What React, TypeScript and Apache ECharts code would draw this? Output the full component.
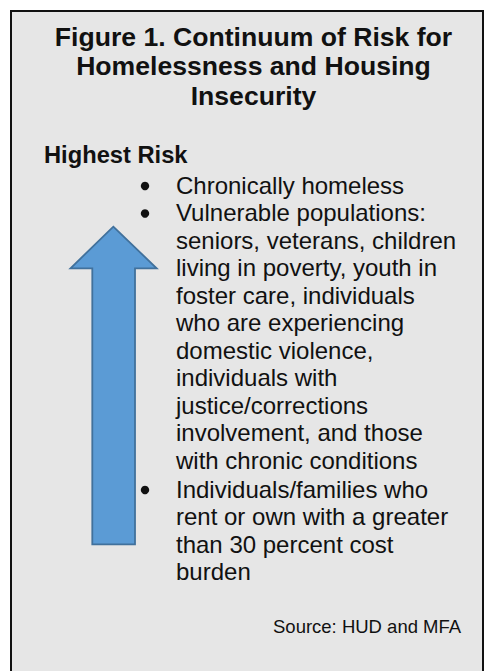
import React, { useEffect, useRef } from "react";
import * as echarts from "echarts";

const titleLines: string[] = [
  "Figure 1. Continuum of Risk for",
  "Homelessness and Housing",
  "Insecurity",
];
const topLabel = "Highest Risk";
const bulletItems: string[][] = [
  ["Chronically homeless"],
  [
    "Vulnerable populations:",
    "seniors, veterans, children",
    "living in poverty, youth in",
    "foster care, individuals",
    "who are experiencing",
    "domestic violence,",
    "individuals with",
    "justice/corrections",
    "involvement, and those",
    "with chronic conditions",
  ],
  [
    "Individuals/families who",
    "rent or own with a greater",
    "than 30 percent cost",
    "burden",
  ],
];
const sourceText = "Source: HUD and MFA";

const FONT = '"Liberation Sans", Arial, Helvetica, sans-serif';

export default function App() {
  const ref = useRef<HTMLDivElement>(null);
  useEffect(() => {
    if (!ref.current) return;
    const chart = echarts.init(ref.current, null, { renderer: "svg" });
    const elements: any[] = [];
    elements.push({
      type: "rect",
      shape: { x: 11, y: 11, width: 472, height: 680 },
      style: { fill: "#e6e6e6", stroke: "#111", lineWidth: 2 },
    });
    // title
    const titleFs = 26.6;
    const titleBase = [46.7, 76, 106];
    titleLines.forEach((t, i) => {
      elements.push({
        type: "text",
        x: 253.5,
        y: titleBase[i] - 0.358 * titleFs,
        style: {
          text: t,
          fontSize: titleFs,
          fontWeight: "bold",
          fontFamily: FONT,
          fill: "#111",
          textAlign: "center",
          textVerticalAlign: "middle",
        },
      });
    });
    elements.push({
      type: "text",
      x: 44,
      y: 163.3 - 0.358 * 23.7,
      style: {
        text: topLabel,
        fontSize: 23.7,
        fontWeight: "bold",
        fontFamily: FONT,
        fill: "#111",
        textAlign: "left",
        textVerticalAlign: "middle",
      },
    });
    // arrow
    elements.push({
      type: "polygon",
      shape: {
        points: [
          [113.3, 226.7],
          [156.7, 268.3],
          [135, 268.3],
          [135, 544.3],
          [92.3, 544.3],
          [92.3, 268.3],
          [70.5, 268.3],
        ],
      },
      style: { fill: "#5b9bd5", stroke: "#41719c", lineWidth: 1.8 },
    });
    // bullets
    const bodyFs = 24;
    const lh = 27.5;
    let base = 194;
    bulletItems.forEach((lines, k) => {
      if (k === 2) base += 1.5;
      elements.push({
        type: "circle",
        shape: { cx: 145, cy: base - 8, r: 4.2 },
        style: { fill: "#111" },
      });
      lines.forEach((t) => {
        elements.push({
          type: "text",
          x: 176,
          y: base - 0.358 * bodyFs,
          style: {
            text: t,
            fontSize: bodyFs,
            fontFamily: FONT,
            fill: "#111",
            textAlign: "left",
            textVerticalAlign: "middle",
          },
        });
        base += lh;
      });
    });
    elements.push({
      type: "text",
      x: 273,
      y: 633 - 0.358 * 18.5,
      style: {
        text: sourceText,
        fontSize: 18.5,
        fontFamily: FONT,
        fill: "#111",
        textAlign: "left",
        textVerticalAlign: "middle",
      },
    });
    chart.setOption({
      animation: false,
      backgroundColor: "#ffffff",
      graphic: { elements },
    });
    return () => chart.dispose();
  }, []);
  return (
    <div
      ref={ref}
      style={{ position: "fixed", left: 0, top: 0, width: 489, height: 671 }}
    />
  );
}
